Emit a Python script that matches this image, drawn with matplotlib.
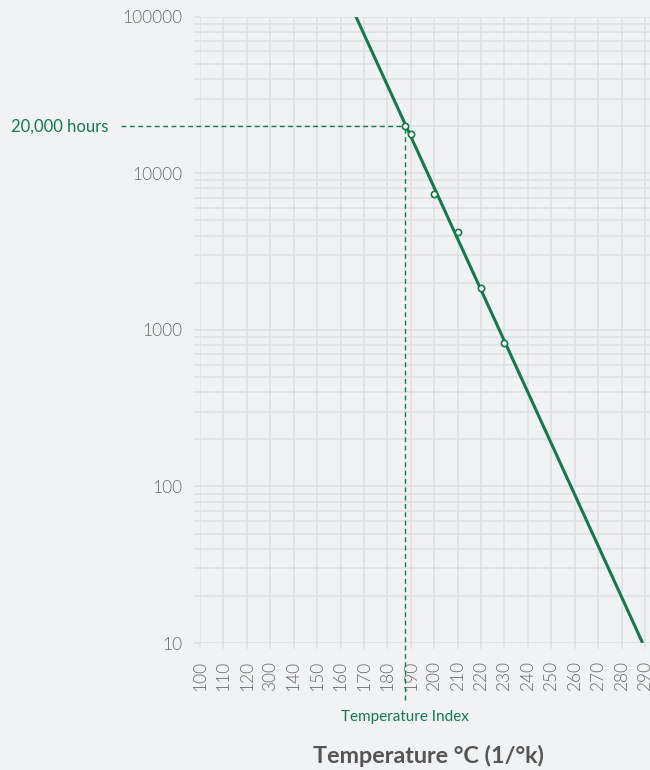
import matplotlib
matplotlib.use("Agg")
import matplotlib.pyplot as plt
import matplotlib.transforms as mtransforms
from matplotlib.ticker import LogLocator, FixedLocator, NullFormatter

plt.rcParams['font.family'] = ['Lato', 'DejaVu Sans']

# ---- data ----
x_ticks = [100, 110, 120, 130, 140, 150, 160, 170, 180, 190,
           200, 210, 220, 230, 240, 250, 260, 270, 280, 290]
x_tick_labels = ["100", "110", "120", "300", "140", "150", "160", "170", "180", "190",
                 "200", "210", "220", "230", "240", "250", "260", "270", "280", "290"]
y_ticks = [10, 100, 1000, 10000, 100000]
y_tick_labels = ["10", "100", "1000", "10000", "100000"]

line_temps = [166.6, 289.0]
line_hours = [100000, 10]

point_temps = [187.5, 190, 200, 210, 220, 230]
point_hours = [20000, 17900, 7400, 4230, 1850, 830]

ti_temp = 187.5
ti_hours = 20000

GREEN = "#127a4c"
GRID = "#dfe0e2"
BG = "#f1f2f4"
TXT = "#6a6a6a"

fig = plt.figure(figsize=(6.5, 7.7), dpi=100, facecolor=BG)
ax = fig.add_axes([200/650, 1-643/770, 450/650, (643-16.7)/770])
ax.set_facecolor(BG)

ax.set_yscale('log')
ax.set_xlim(100, 100 + 450/2.342)
ax.set_ylim(10, 100000)

for s in ax.spines.values():
    s.set_visible(False)

ax.xaxis.set_major_locator(FixedLocator(x_ticks))
ax.set_xticklabels(x_tick_labels, rotation=90, fontweight=300)
ax.yaxis.set_major_locator(FixedLocator(y_ticks))
ax.set_yticklabels(y_tick_labels, fontweight=300)
ax.yaxis.set_minor_locator(LogLocator(base=10, subs=range(2, 10)))
ax.yaxis.set_minor_formatter(NullFormatter())

ax.grid(True, which='major', color=GRID, linewidth=1.2, zorder=0)
ax.grid(True, which='minor', axis='y', color=GRID, linewidth=1.2, zorder=0)
ax.set_axisbelow(True)
ax.tick_params(axis='both', which='both', color=GRID, width=1.2, length=4,
               labelcolor=TXT, labelsize=12.5)
ax.tick_params(axis='y', which='both', pad=9)
ax.tick_params(axis='x', which='both', pad=9)

# main line
ax.plot(line_temps, line_hours, color=GREEN, linewidth=2.2, zorder=3,
        solid_capstyle='butt')
ax.plot(point_temps, point_hours, linestyle='none', marker='o', markersize=4.5,
        markerfacecolor='white', markeredgecolor=GREEN, markeredgewidth=1.2, zorder=4)

# dashed reference lines
blend_h = mtransforms.blended_transform_factory(ax.transAxes, ax.transData)
x_ti_axes = ax.transAxes.inverted().transform(ax.transData.transform((ti_temp, ti_hours)))[0]
ax.plot([-0.1756, x_ti_axes], [ti_hours, ti_hours], transform=blend_h,
        color=GREEN, linewidth=1, linestyle=(0, (3.5, 2.5)), clip_on=False, zorder=2)
blend_v = mtransforms.blended_transform_factory(ax.transData, ax.transAxes)
y_ti_axes = ax.transAxes.inverted().transform(ax.transData.transform((ti_temp, ti_hours)))[1]
ax.plot([ti_temp, ti_temp], [-0.091, y_ti_axes], transform=blend_v,
        color=GREEN, linewidth=1, linestyle=(0, (3.5, 2.5)), clip_on=False, zorder=2)

ax.text(-0.204, ti_hours, "20,000 hours", transform=blend_h, ha='right', va='center',
        color=GREEN, fontsize=12)
ax.text(ti_temp, -0.118, "Temperature Index", transform=blend_v, ha='center', va='center',
        color=GREEN, fontsize=11)

fig.text(428/650, 1-756/770, "Temperature °C (1/°k)", ha='center', va='center',
         fontsize=16.8, fontweight='bold', color="#555555")

fig.savefig("out.png", dpi=100, facecolor=BG)
